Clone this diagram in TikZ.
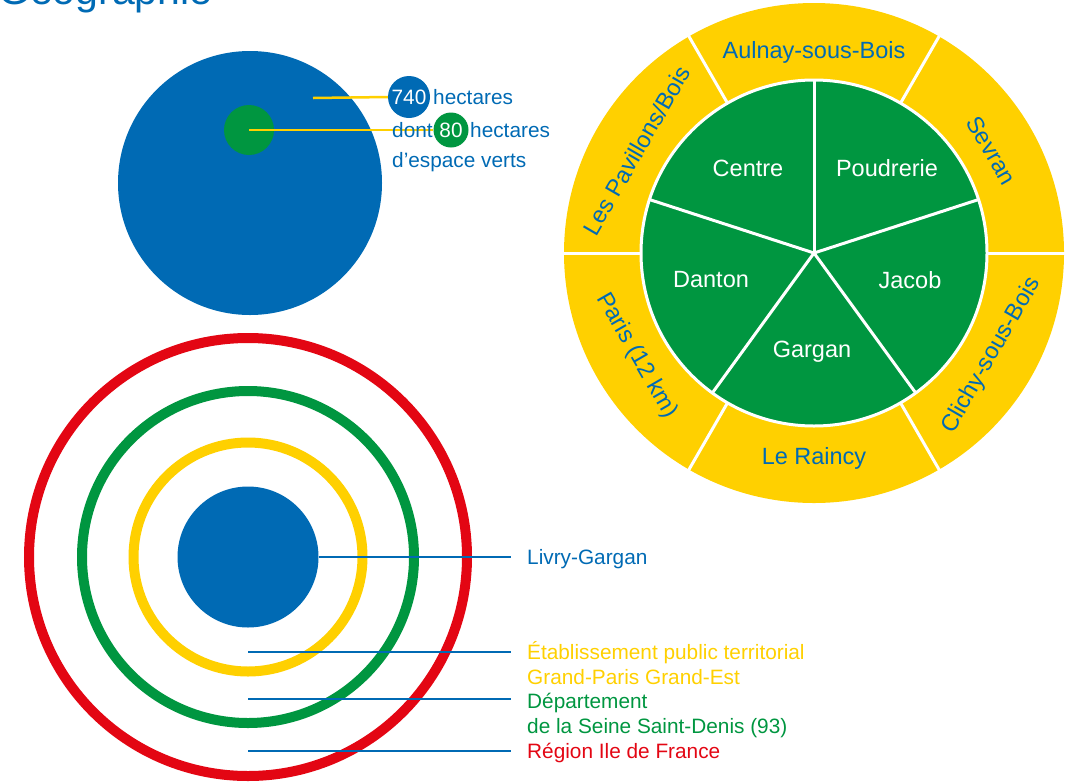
\documentclass[tikz,border=0pt]{standalone}
\usepackage{fontspec}
\setmainfont{Liberation Sans}
\definecolor{cblue}{RGB}{0,106,180}
\definecolor{cgreen}{RGB}{0,150,64}
\definecolor{cyellow}{RGB}{255,208,0}
\definecolor{cred}{RGB}{227,6,19}
\begin{document}
\begin{tikzpicture}[x=1pt,y=-1pt,
  lbl/.style={font=\fontsize{20.8}{25}\selectfont, inner sep=0pt, anchor=base west},
  wlbl/.style={font=\fontsize{23.5}{28}\selectfont, inner sep=0pt, anchor=center},
  ringline/.style={line width=10pt},
  lead/.style={cblue, line width=2.5pt},
  ylead/.style={cyellow, line width=2.5pt},
  sep/.style={white, line width=3pt},
  disc/.style={circle, inner sep=0pt}]
\useasboundingbox (0,0) rectangle (1078,782);

% title (cut off at the top)
\node[cblue, font=\fontsize{41}{45}\selectfont, inner sep=0pt, anchor=base west] (title) at (-2,4) {Géographie};

% --- top left: surface ---
\node[disc, fill=cblue, minimum size=264] (big) at (250,183) {};
\node[disc, fill=cgreen, minimum size=50] (verts) at (249,130) {};
\coordinate (p740) at (313,98);
\node[disc, fill=cblue, minimum size=42, text=white, font=\fontsize{20.8}{25}\selectfont] (n740) at (409,97) {740};
\node[disc, fill=cgreen, minimum size=35, text=white, font=\fontsize{20.8}{25}\selectfont] (n80) at (451,130) {80};
\draw[ylead] (p740) -- (n740.west);
\draw[ylead] (verts.center) -- (n80.west);
\node[lbl, cblue] (h1) at (433,104) {hectares};
\node[lbl, cblue] (dont) at (392,137) {dont};
\node[lbl, cblue] (h2) at (470,137) {hectares};
\node[lbl, cblue] (ev) at (392,167) {d’espace verts};

% --- bottom left: concentric ---
\coordinate (C) at (248,557);
\draw[ringline, cred] (C) circle (219);
\draw[ringline, cgreen] (C) circle (166);
\draw[ringline, cyellow] (C) circle (114.5);
\node[disc, fill=cblue, minimum size=141] (lg) at (C) {};

\coordinate (e1) at (511,557);
\coordinate (s2) at (248,652);
\coordinate (e2) at (511,652);
\coordinate (s3) at (248,699);
\coordinate (e3) at (511,699);
\coordinate (s4) at (248,751);
\coordinate (e4) at (511,751);
\draw[lead] (lg.east) -- (e1);
\draw[lead] (s2) -- (e2);
\draw[lead] (s3) -- (e3);
\draw[lead] (s4) -- (e4);

\node[lbl, cblue] (t1) at (527,564) {Livry-Gargan};
\node[lbl, cyellow] (t2a) at (527,659) {Établissement public territorial};
\node[lbl, cyellow] (t2b) at (527,684) {Grand-Paris Grand-Est};
\node[lbl, cgreen] (t3a) at (527,708) {Département};
\node[lbl, cgreen] (t3b) at (527,733) {de la Seine Saint-Denis (93)};
\node[lbl, cred] (t4) at (527,758) {Région Ile de France};

% --- right: wheel ---
\coordinate (W) at (814,253);
\fill[cyellow] (W) circle (250);
\fill[cgreen] (W) circle (173);
\draw[sep] (W) circle (173);
\foreach \a in {0,60,...,300} {
  \draw[sep] ([shift={(\a:173)}]W) -- ([shift={(\a:252)}]W);
}
\foreach \a in {-90,-18,54,126,-162} {
  \draw[sep] (W) -- ([shift={(\a:173)}]W);
}
\node[wlbl, cblue] (aulnay) at ([shift={(-90:201)}]W) {Aulnay-sous-Bois};
\node[wlbl, cblue, rotate=-60] (sevran) at ([shift={(-30:205)}]W) {Sevran};
\node[wlbl, cblue, rotate=60] (clichy) at ([shift={(30:205)}]W) {Clichy-sous-Bois};
\node[wlbl, cblue] (raincy) at ([shift={(90:205)}]W) {Le Raincy};
\node[wlbl, cblue, rotate=-60] (paris) at ([shift={(150:205)}]W) {Paris (12 km)};
\node[wlbl, cblue, rotate=60] (pavillons) at ([shift={(-150:205)}]W) {Les Pavillons/Bois};

\node[wlbl, white] (centre) at (748,168) {Centre};
\node[wlbl, white] (poudrerie) at (887,168) {Poudrerie};
\node[wlbl, white] (danton) at (711,280) {Danton};
\node[wlbl, white] (jacob) at (910,280) {Jacob};
\node[wlbl, white] (gargan) at (812,352) {Gargan};
\end{tikzpicture}
\end{document}
